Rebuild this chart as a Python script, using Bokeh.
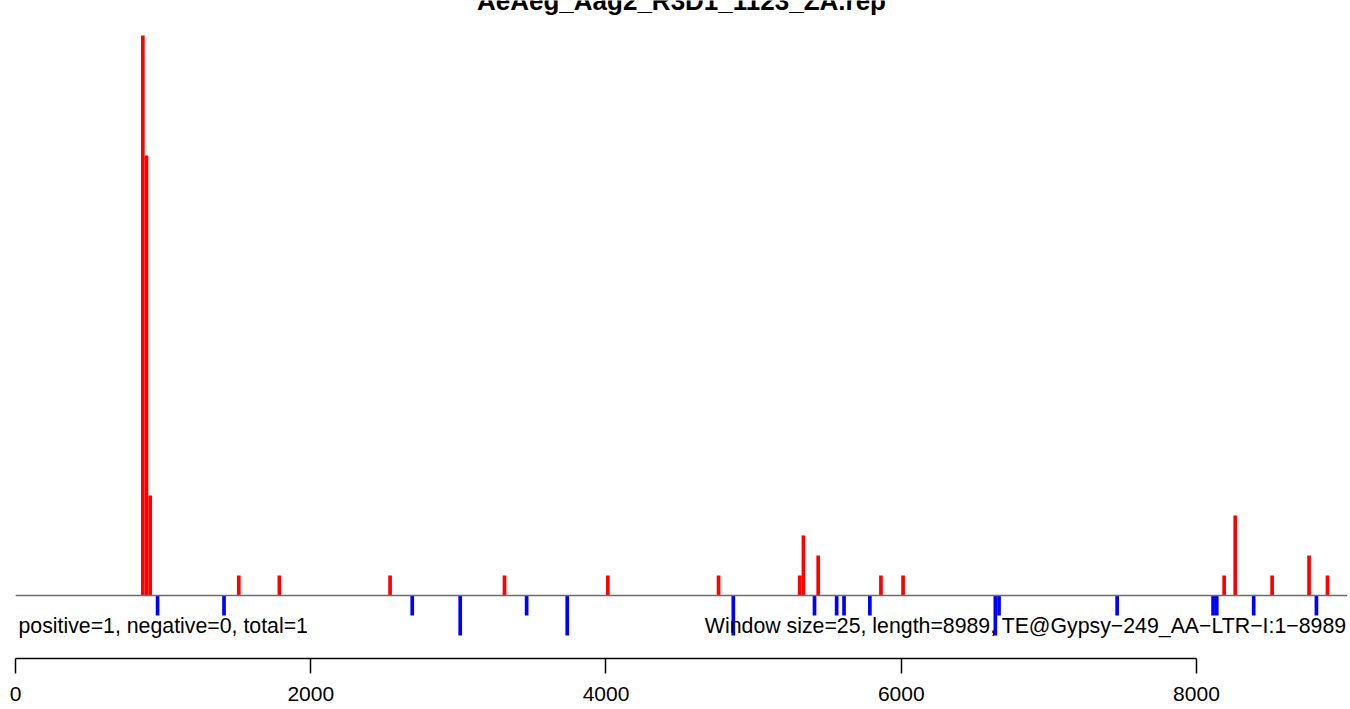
from bokeh.plotting import figure
from bokeh.models import Range1d, Span, FixedTicker, LinearAxis, Label
from bokeh.core.properties import value
from bokeh.embed import file_html
from bokeh.resources import INLINE

# ---- data ----
window = 25
seq_length = 8989
pos_start = [850, 875, 900, 1500, 1775, 2525, 3300, 4000, 4750, 5300, 5325,
             5425, 5850, 6000, 8175, 8250, 8500, 8750, 8875]
pos_count = [28, 22, 5, 1, 1, 1, 1, 1, 1, 1, 3, 2, 1, 1, 1, 4, 1, 2, 1]
neg_start = [950, 1400, 2675, 3000, 3450, 3725, 4850, 5400, 5550, 5600, 5775,
             6625, 6650, 7450, 8100, 8125, 8375, 8800]
neg_count = [1, 1, 1, 2, 1, 2, 2, 1, 1, 1, 1, 2, 1, 1, 1, 1, 1, 1]
x_ticks = [0, 2000, 4000, 6000, 8000]
title_text = "AeAeg_Aag2_R3D1_1123_ZA.rep"
left_text = "positive=1, negative=0, total=1"
right_text = "Window size=25, length=8989, TE@Gypsy\u2212249_AA\u2212LTR\u2212I:1\u22128989"

FONT = "Liberation Sans"
x_end = 9023
y_top = 29.75

p = figure(width=1350, height=709,
           x_range=Range1d(0, x_end), y_range=Range1d(-3.15, y_top),
           output_backend="svg", toolbar_location=None,
           x_axis_location=None, y_axis_location=None,
           min_border_left=15, min_border_right=3,
           min_border_top=0, min_border_bottom=51)
p.grid.visible = False
p.outline_line_color = None
p.background_fill_color = "white"
p.border_fill_color = "white"

axis = LinearAxis(ticker=FixedTicker(ticks=x_ticks), bounds=(x_ticks[0], x_ticks[-1]))
axis.major_tick_out = 15
axis.major_tick_in = 0
axis.minor_tick_out = 0
axis.minor_tick_in = 0
axis.major_label_standoff = 13
axis.major_label_text_font = FONT
axis.major_label_text_font_size = "21px"
axis.major_label_text_color = "black"
axis.axis_line_color = "black"
axis.axis_line_width = 1.5
axis.major_tick_line_color = "black"
axis.major_tick_line_width = 1.5
p.add_layout(axis, "below")

p.add_layout(Span(location=0, dimension="width", line_color="#6b6b6b", line_width=1.5))

pos_left = pos_start
pos_right = [s + window for s in pos_start]
neg_left = neg_start
neg_right = [s + window for s in neg_start]
p.quad(left=pos_left, right=pos_right, bottom=0, top=pos_count,
       fill_color="#ff0000", line_color=None)
p.quad(left=neg_left, right=neg_right, top=0, bottom=[-c for c in neg_count],
       fill_color="#0000ff", line_color=None)

p.text(x=[x_end / 2], y=[y_top], text=[title_text], text_align="center",
       text_baseline="alphabetic", text_font=value(FONT), text_font_style="bold",
       text_font_size="26px", text_color="black")

p.add_layout(Label(x=20, y=-1.52, text=left_text, text_align="left",
                   text_baseline="alphabetic", text_font=FONT,
                   text_font_size="21.3px", text_color="black"))
p.add_layout(Label(x=9016, y=-1.52, text=right_text, text_align="right",
                   text_baseline="alphabetic", text_font=FONT,
                   text_font_size="21.3px", text_color="black"))

open("out.html", "w").write(file_html(p, INLINE))
